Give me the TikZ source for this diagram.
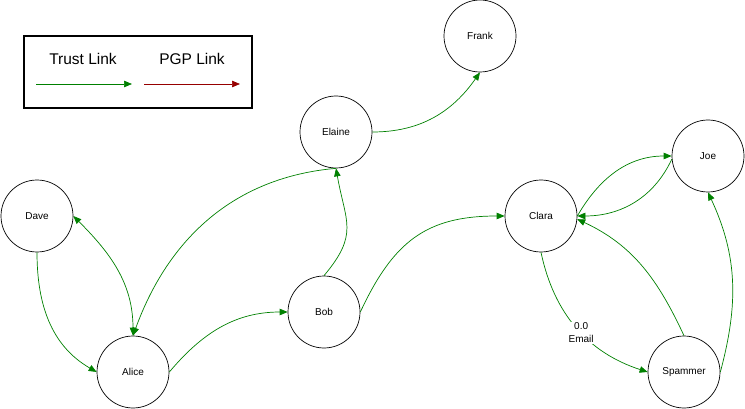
\documentclass[tikz,border=0pt]{standalone}
\usepackage{fontspec}
\setmainfont{Liberation Sans}
\usetikzlibrary{arrows.meta,positioning}
\definecolor{trustgreen}{RGB}{0,128,0}
\definecolor{pgpred}{RGB}{150,0,0}
\begin{document}
\begin{tikzpicture}[x=1pt,y=1pt,>={Triangle[length=8pt,width=6.5pt]},
  vertex/.style={draw,circle,minimum size=72pt,inner sep=0pt,line width=0.7pt,font=\fontsize{10}{12}\selectfont},
  trust/.style={draw=trustgreen,fill=none,line width=0.7pt,->},
  pgp/.style={draw=pgpred,line width=0.7pt,->},
  legendtext/.style={font=\fontsize{15.5}{18}\selectfont}]
\useasboundingbox (0,0) rectangle (745,-409);
\node[draw,line width=1.1pt,minimum width=228pt,minimum height=72pt,inner sep=0pt] (legend) at (138,-72) {};
\node[legendtext] (trustlabel) at (83,-59) {Trust Link};
\node[legendtext] (pgplabel) at (192,-59) {PGP Link};
\coordinate (trustA) at (36,-84);
\coordinate (trustB) at (132,-84);
\coordinate (pgpA) at (144,-84);
\coordinate (pgpB) at (240,-84);
\draw[trust] (trustA) -- (trustB);
\draw[pgp] (pgpA) -- (pgpB);
\node[vertex] (Dave) at (37,-216) {Dave};
\node[vertex] (Alice) at (133,-372) {Alice};
\node[vertex] (Bob) at (324,-312) {Bob};
\node[vertex] (Elaine) at (336,-132) {Elaine};
\node[vertex] (Frank) at (480,-36) {Frank};
\node[vertex] (Clara) at (541,-216) {Clara};
\node[vertex] (Joe) at (708,-156) {Joe};
\node[vertex] (Spammer) at (684,-372) {Spammer};
\draw[trust] (Dave.south) to[out=270,in=150] (Alice.west);
\draw[trust,<->] (Dave.east) to[out=-45,in=90] (Alice.north);
\draw[trust] (Elaine.south) to[out=185,in=70] (Alice.north);
\draw[trust] (Alice.east) to[out=50,in=180] (Bob.west);
\draw[trust] (Bob.north) to[out=50,in=-80,looseness=1.3] (Elaine.south);
\draw[trust] (Bob.east) to[out=65,in=180,looseness=1.15] (Clara.west);
\draw[trust] (Elaine.east) to[out=0,in=235] (Frank.south);
\draw[trust] (Clara.east) to[out=60,in=180] (Joe.west);
\draw[trust] (Joe.185) to[out=245,in=0] (Clara.east);
\draw[trust] (Spammer.north) to[out=115,in=-25] (Clara.-5);
\draw[trust] (Spammer.east) to[out=75,in=-65] (Joe.south);
\draw[trust] (Clara.south) to[out=-78,in=162] node[pos=0.54,fill=white,align=center,inner sep=1pt,font=\fontsize{10}{13}\selectfont] (email) {0.0\\Email} (Spammer.west);
\end{tikzpicture}
\end{document}
